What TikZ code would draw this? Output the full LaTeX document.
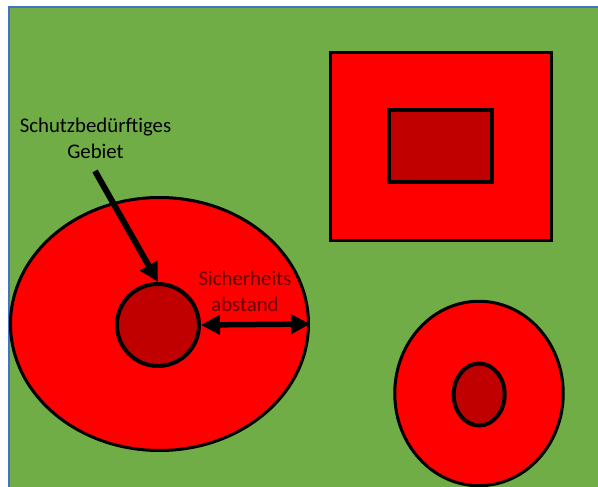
\documentclass[tikz,border=0pt]{standalone}
\usepackage{fontspec}
\setmainfont{Carlito}
\usetikzlibrary{shapes.geometric,arrows.meta}
\definecolor{meadow}{HTML}{70AD47}
\definecolor{zonered}{HTML}{FF0000}
\definecolor{corered}{HTML}{C00000}
\definecolor{frameblue}{HTML}{4472C4}
\definecolor{labelred}{rgb}{0.4,0,0}
\tikzset{
  zone/.style={draw=black, line width=3pt, fill=zonered, inner sep=0pt},
  core/.style={draw=black, line width=4pt, fill=corered, inner sep=0pt},
  label/.style={align=center, font=\fontsize{20.8}{26}\selectfont, inner sep=0pt},
  pointer/.style={line width=6pt, -{Triangle[length=19pt,width=19pt]}},
  span/.style={line width=5.5pt, {Triangle[length=19pt,width=19pt]}-{Triangle[length=19pt,width=19pt]}}
}
\begin{document}
\begin{tikzpicture}[x=1pt, y=-1pt]
  \useasboundingbox (0,0) rectangle (598,487);
  \clip (0,0) rectangle (598,487);
  % ground area with frame on top and left
  \fill[white] (0,0) rectangle (598,487);
  \draw[frameblue, line width=1.5pt, fill=meadow] (9,7) rectangle (610,500);

  % large zone with protected core
  \node[zone, ellipse, minimum width=298pt, minimum height=253pt] (bigzone) at (159.5,324) {};
  \node[core, circle, minimum size=82pt] (bigcore) at (158,325) {};

  % rectangular zone
  \node[zone, rectangle, minimum width=221pt, minimum height=188pt] (rectzone) at (440.5,146.5) {};
  \node[core, rectangle, minimum width=103pt, minimum height=72pt] (rectcore) at (440.5,146) {};

  % small elliptic zone
  \node[zone, ellipse, minimum width=168.5pt, minimum height=184.5pt] (smallzone) at (479,393.5) {};
  \node[core, ellipse, minimum width=51pt, minimum height=62pt] (smallcore) at (479.2,394.5) {};

  % labels (base anchor sits on the last line)
  \node[label, anchor=base] (protlabel) at (95.5,158.5) {Schutzbedürftiges\\Gebiet};
  \node[label, anchor=base, text=labelred] (distlabel) at (245,311) {Sicherheits\\abstand};

  % connectors
  \coordinate (pointerstart) at (95,171);
  \draw[pointer] (pointerstart) -- (bigcore.north);
  \draw[span] (bigcore.east) -- (bigzone.east);
\end{tikzpicture}
\end{document}
